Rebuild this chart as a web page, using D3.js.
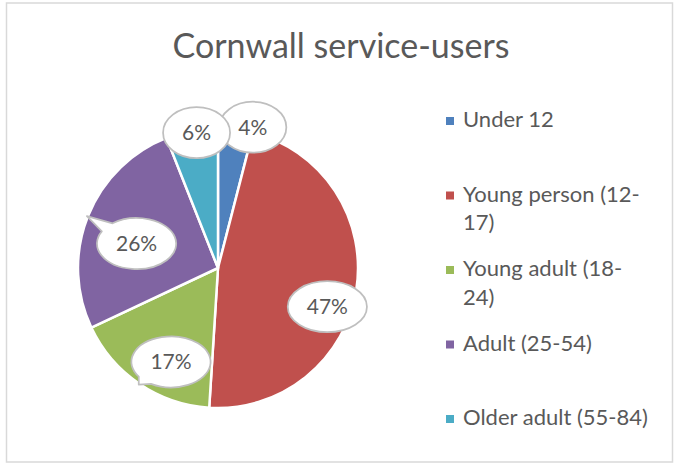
<!DOCTYPE html>
<html>
<head>
<meta charset="utf-8">
<script src="https://cdn.jsdelivr.net/npm/d3@7"></script>
<style>
  html, body { margin: 0; padding: 0; background: #fff; }
  svg { display: block; }
  text { font-family: Lato, "Open Sans", "Liberation Sans", sans-serif; fill: #595959; }
</style>
</head>
<body>
<svg id="chart" width="675" height="465"></svg>
<script>
// Age groups of service users and their share (%) of the total
const categories = ["Under 12", "Young person (12-17)", "Young adult (18-24)", "Adult (25-54)", "Older adult (55-84)"];
const shares = [4, 47, 17, 26, 6];
const palette = ["#4F81BD", "#C0504D", "#9BBB59", "#8064A2", "#4BACC6"];
const title = "Cornwall service-users";

// Where each callout sits: angle shift (deg) from the slice middle and distance from the centre
const calloutShift = [6.7, 10.5, -7.6, -4.9, 1.8];
const calloutDist = [145, 116, 105, 85, 137];

const W = 675, H = 465;
const cx = 218, cy = 268, R = 140;

const svg = d3.select("#chart");

svg.append("rect")
  .attr("x", 6.5).attr("y", 3).attr("width", 666).attr("height", 459)
  .attr("fill", "#fff").attr("stroke", "#d9d9d9").attr("stroke-width", 1.5);

svg.append("text")
  .attr("x", 341).attr("y", 58)
  .attr("text-anchor", "middle")
  .style("font-size", "34px")
  .text(title);

const color = d3.scaleOrdinal().domain(categories).range(palette);

const pie = d3.pie().sort(null).value(d => d.value);
const slices = pie(categories.map((c, i) => ({ name: c, value: shares[i] })));
const arc = d3.arc().innerRadius(0).outerRadius(R);

const g = svg.append("g").attr("transform", `translate(${cx},${cy})`);

g.selectAll("path.slice")
  .data(slices)
  .join("path")
  .attr("class", "slice")
  .attr("d", arc)
  .attr("fill", d => color(d.data.name))
  .attr("stroke", "#fff")
  .attr("stroke-width", 2.5)
  .attr("stroke-linejoin", "round");

// Point at angle a (radians, clockwise from 12 o'clock) and radius r
const polar = (a, r) => [r * Math.sin(a), -r * Math.cos(a)];

// Ellipse bubble with a wedge that reaches the slice edge when the edge lies outside it
function calloutPath(x, y, rx, ry, tip) {
  const nx = (tip[0] - x) / rx, ny = (tip[1] - y) / ry;
  if (nx * nx + ny * ny <= 1) {
    return `M${x + rx},${y}A${rx},${ry} 0 1 1 ${x - rx},${y}A${rx},${ry} 0 1 1 ${x + rx},${y}Z`;
  }
  const t = Math.atan2(ny, nx);
  const t1 = t - 0.21, t2 = t + 0.21;
  const p1 = [x + rx * Math.cos(t1), y + ry * Math.sin(t1)];
  const p2 = [x + rx * Math.cos(t2), y + ry * Math.sin(t2)];
  return `M${p2[0]},${p2[1]}A${rx},${ry} 0 1 1 ${p1[0]},${p1[1]}L${tip[0]},${tip[1]}Z`;
}

const labelSize = 21;
const labels = g.selectAll("g.callout")
  .data(slices)
  .join("g")
  .attr("class", "callout");

labels.each(function (d, i) {
  const sel = d3.select(this);
  const mid = (d.startAngle + d.endAngle) / 2;
  const [lx, ly] = polar(mid + calloutShift[i] * Math.PI / 180, calloutDist[i]);
  const tip = polar(mid, R + 1);
  const txt = sel.append("text")
    .attr("x", lx).attr("y", ly)
    .attr("text-anchor", "middle")
    .attr("dy", "0.36em")
    .style("font-size", labelSize + "px")
    .text(`${d.data.value}%`);
  const tw = txt.node().getComputedTextLength();
  const rx = tw / 2 + 19, ry = 25.5;
  sel.insert("path", "text")
    .attr("d", calloutPath(lx, ly, rx, ry, tip))
    .attr("fill", "#fff")
    .attr("stroke", "#bfbfbf")
    .attr("stroke-width", 1.75)
    .attr("stroke-linejoin", "round");
});

// Legend: entries spaced evenly, long names wrapped after a space or hyphen
const legendX = 446, legendTop = 127, legendStep = 74.5, lineGap = 28.5, legendFont = 22, maxLine = 185;

const legend = svg.append("g");
const entries = legend.selectAll("g")
  .data(categories)
  .join("g")
  .attr("transform", (d, i) => `translate(${legendX},${legendTop + i * legendStep})`);

entries.append("rect")
  .attr("x", 0).attr("y", -10).attr("width", 8).attr("height", 8)
  .attr("fill", d => color(d));

entries.each(function (name) {
  const t = d3.select(this).append("text")
    .attr("x", 17).attr("y", 0)
    .style("font-size", legendFont + "px");
  const tokens = name.match(/[^ -]+[ -]?/g);
  let line = "", row = 0;
  let span = t.append("tspan").attr("x", 17).attr("y", 0);
  tokens.forEach(tok => {
    const trial = line + tok;
    span.text(trial.trimEnd());
    if (span.node().getComputedTextLength() > maxLine && line) {
      span.text(line.trimEnd());
      row += 1;
      line = tok;
      span = t.append("tspan").attr("x", 17).attr("y", row * lineGap).text(tok.trimEnd());
    } else {
      line = trial;
    }
  });
});
</script>
</body>
</html>
